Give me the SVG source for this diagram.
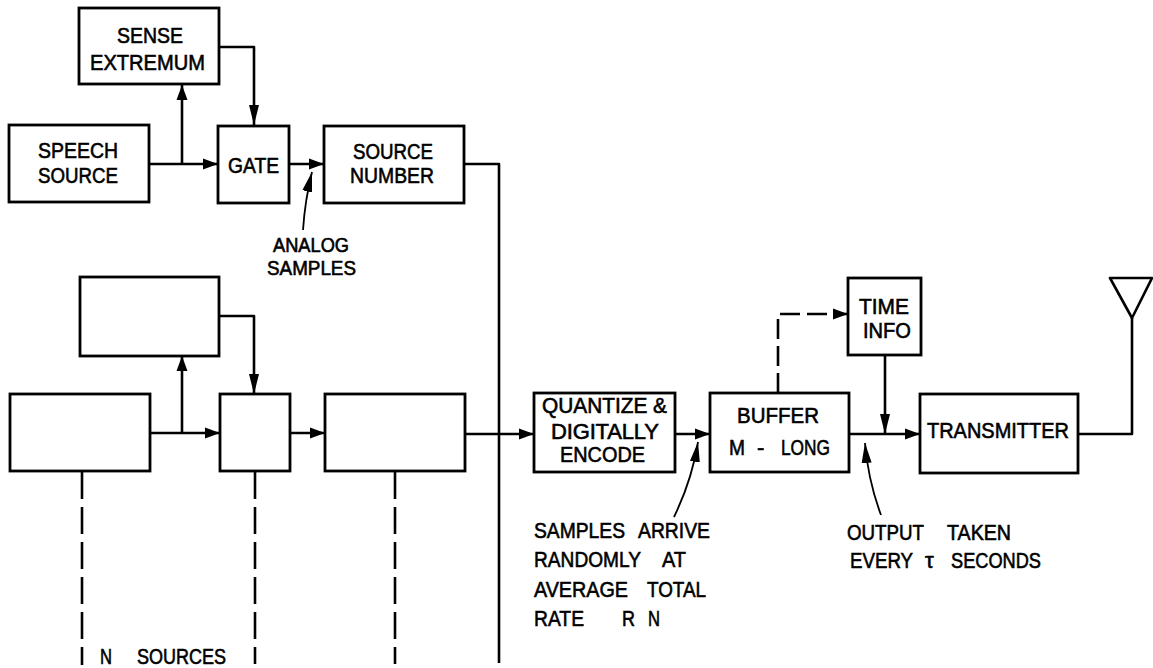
<svg xmlns="http://www.w3.org/2000/svg" width="1153" height="668" viewBox="0 0 1153 668">
<defs>
<marker id="a" markerUnits="userSpaceOnUse" markerWidth="15" markerHeight="12" refX="15" refY="6" orient="auto"><path d="M0 0.5L15 6L0 11.5Z" fill="#000"/></marker>
<marker id="b" markerUnits="userSpaceOnUse" markerWidth="20" markerHeight="12" refX="20" refY="6" orient="auto"><path d="M0 1L20 6L0 11Z" fill="#000"/></marker>
</defs>
<style>
rect{fill:#fff;stroke:#000;stroke-width:2.8}
path.c{fill:none;stroke:#000;stroke-width:2.6;stroke-linejoin:round}
path.d{fill:none;stroke:#000;stroke-width:2.6;stroke-dasharray:27 8}
path.l{fill:none;stroke:#000;stroke-width:1.8}
text{font-family:"Liberation Sans",Arial,sans-serif;font-size:22px;fill:#000;stroke:#000;stroke-width:.6}
#analog-samples text{font-size:19.5px}
</style>
<rect x="0" y="0" width="1153" height="668" style="fill:#fff;stroke:none"/>
<g id="connectors">
<path class="c" d="M149 164H218" marker-end="url(#a)"/>
<path class="c" d="M182 164V85" marker-end="url(#a)"/>
<path class="c" d="M219 47H254V125" marker-end="url(#b)"/>
<path class="c" d="M289 164H324" marker-end="url(#a)"/>
<path class="c" d="M464 164H499V663"/>
<path class="c" d="M150 433H220" marker-end="url(#a)"/>
<path class="c" d="M182 433V356" marker-end="url(#a)"/>
<path class="c" d="M219 316H254V394" marker-end="url(#b)"/>
<path class="c" d="M290 433H325" marker-end="url(#a)"/>
<path class="c" d="M465 434H534" marker-end="url(#a)"/>
<path class="c" d="M675 434H710" marker-end="url(#a)"/>
<path class="c" d="M849 434H920" marker-end="url(#a)"/>
<path class="c" d="M885 355V434" marker-end="url(#b)"/>
<path class="c" d="M1078 434H1132V318"/>
<path class="c" d="M778 393V314H848" stroke-dasharray="20 7" marker-end="url(#a)"/>
<path class="d" d="M82 472V665"/>
<path class="d" d="M255 472V664"/>
<path class="d" d="M395 472V664"/>
<path class="l" d="M303 230Q305 200 312 172" marker-end="url(#b)"/>
<path class="l" d="M674 517Q692 480 698 442" marker-end="url(#b)"/>
<path class="l" d="M881 515Q868 480 865 443" marker-end="url(#b)"/>
</g>
<g id="sense-extremum"><rect x="79" y="8" width="140" height="76"/><text x="117" y="43" textLength="66" lengthAdjust="spacingAndGlyphs">SENSE</text><text x="90" y="70" textLength="115" lengthAdjust="spacingAndGlyphs">EXTREMUM</text></g>
<g id="speech-source"><rect x="9" y="125" width="140" height="77"/><text x="38" y="158" textLength="80" lengthAdjust="spacingAndGlyphs">SPEECH</text><text x="38" y="183" textLength="80" lengthAdjust="spacingAndGlyphs">SOURCE</text></g>
<g id="gate"><rect x="218" y="126" width="71" height="77"/><text x="228" y="173" textLength="51" lengthAdjust="spacingAndGlyphs">GATE</text></g>
<g id="source-number"><rect x="324" y="126" width="140" height="77"/><text x="353" y="159" textLength="80" lengthAdjust="spacingAndGlyphs">SOURCE</text><text x="350" y="183" textLength="84" lengthAdjust="spacingAndGlyphs">NUMBER</text></g>
<g id="analog-samples"><text x="273" y="252" textLength="76" lengthAdjust="spacingAndGlyphs">ANALOG</text><text x="267" y="275" textLength="89" lengthAdjust="spacingAndGlyphs">SAMPLES</text></g>
<g id="sense-2"><rect x="80" y="277" width="139" height="79"/></g>
<g id="speech-2"><rect x="10" y="394" width="140" height="77"/></g>
<g id="gate-2"><rect x="220" y="394" width="70" height="77"/></g>
<g id="source-2"><rect x="325" y="394" width="140" height="77"/></g>
<g id="n-sources"><text x="100" y="664" textLength="12" lengthAdjust="spacingAndGlyphs">N</text><text x="137" y="664" textLength="89" lengthAdjust="spacingAndGlyphs">SOURCES</text></g>
<g id="quantize"><rect x="534" y="393" width="141" height="79"/><text x="542" y="413" textLength="125" lengthAdjust="spacingAndGlyphs">QUANTIZE &amp;</text><text x="551" y="439" textLength="108" lengthAdjust="spacing">DIGITALLY</text><text x="560" y="462" textLength="85" lengthAdjust="spacingAndGlyphs">ENCODE</text></g>
<g id="buffer"><rect x="710" y="393" width="139" height="79"/><text x="737" y="423" textLength="82" lengthAdjust="spacingAndGlyphs">BUFFER</text><text x="729" y="455" textLength="16" lengthAdjust="spacingAndGlyphs">M</text><text x="757" y="455">-</text><text x="781" y="455" textLength="49" lengthAdjust="spacingAndGlyphs">LONG</text></g>
<g id="time-info"><rect x="848" y="278" width="73" height="77"/><text x="859" y="314" textLength="50" lengthAdjust="spacingAndGlyphs">TIME</text><text x="863" y="338" textLength="48" lengthAdjust="spacingAndGlyphs">INFO</text></g>
<g id="transmitter"><rect x="920" y="394" width="158" height="79"/><text x="927" y="438" textLength="142" lengthAdjust="spacingAndGlyphs">TRANSMITTER</text></g>
<g id="antenna"><path class="c" d="M1110 278H1152L1132 318Z"/></g>
<g id="samples-arrive"><text x="534" y="538" textLength="91" lengthAdjust="spacingAndGlyphs">SAMPLES</text><text x="638" y="538" textLength="72" lengthAdjust="spacingAndGlyphs">ARRIVE</text><text x="534" y="567" textLength="107" lengthAdjust="spacingAndGlyphs">RANDOMLY</text><text x="662" y="567" textLength="24" lengthAdjust="spacingAndGlyphs">AT</text><text x="534" y="597" textLength="94" lengthAdjust="spacingAndGlyphs">AVERAGE</text><text x="647" y="597" textLength="59" lengthAdjust="spacingAndGlyphs">TOTAL</text><text x="534" y="626" textLength="50" lengthAdjust="spacingAndGlyphs">RATE</text><text x="622" y="626" textLength="13" lengthAdjust="spacingAndGlyphs">R</text><text x="648" y="626" textLength="12" lengthAdjust="spacingAndGlyphs">N</text></g>
<g id="output-taken"><text x="847" y="540" textLength="77" lengthAdjust="spacingAndGlyphs">OUTPUT</text><text x="947" y="540" textLength="64" lengthAdjust="spacingAndGlyphs">TAKEN</text><text x="850" y="568" textLength="63" lengthAdjust="spacingAndGlyphs">EVERY</text><text x="925" y="568">τ</text><text x="951" y="568" textLength="90" lengthAdjust="spacingAndGlyphs">SECONDS</text></g>
</svg>
